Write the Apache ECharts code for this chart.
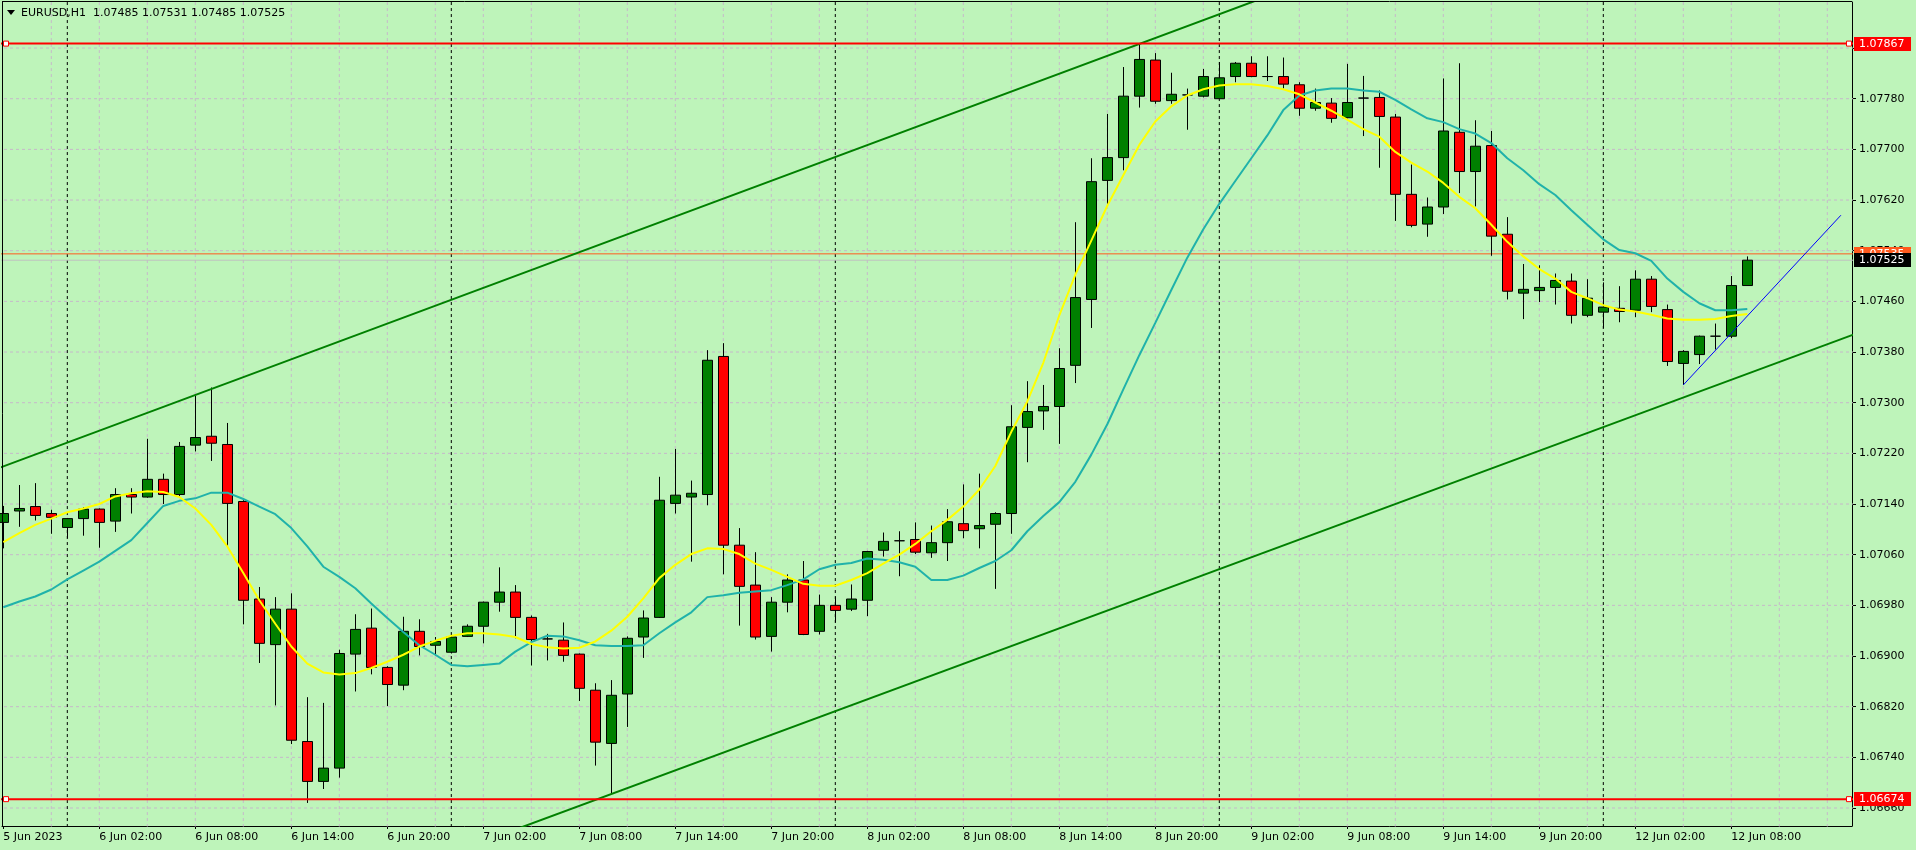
<!DOCTYPE html>
<html><head><meta charset="utf-8">
<script src="https://cdn.jsdelivr.net/npm/echarts@6/dist/echarts.min.js"></script>
<style>html,body{margin:0;padding:0;background:#BEF4BA;overflow:hidden}#c{width:1916px;height:850px}</style>
</head><body><div id="c"></div>
<script>
const symbolTitle = 'EURUSD,H1';
const lastQuote = ['1.07485', '1.07531', '1.07485', '1.07525'];

const opens = [1.07111,1.07129,1.07136,1.07125,1.07103,1.07117,1.07132,1.07113,1.07155,1.07151,
1.07179,1.07155,1.07233,1.07247,1.07234,1.07144,1.06990,1.06918,1.06974,1.06765,
1.06702,1.06723,1.06903,1.06944,1.06882,1.06854,1.06939,1.06917,1.06906,1.06931,
1.06947,1.06985,1.07001,1.06961,1.06927,1.06925,1.06903,1.06846,1.06762,1.06840,
1.06930,1.06961,1.07141,1.07151,1.07155,1.07373,1.07075,1.07012,1.06931,1.06985,
1.07020,1.06939,1.06980,1.06974,1.06988,1.07067,1.07082,1.07084,1.07063,1.07079,
1.07109,1.07101,1.07108,1.07125,1.07261,1.07287,1.07294,1.07359,1.07463,1.07651,
1.07687,1.07784,1.07841,1.07777,1.07786,1.07784,1.07780,1.07815,1.07836,1.07815,
1.07815,1.07802,1.07765,1.07773,1.07750,1.07781,1.07782,1.07751,1.07629,1.07582,
1.07609,1.07727,1.07665,1.07706,1.07566,1.07473,1.07477,1.07482,1.07492,1.07438,
1.07443,1.07449,1.07446,1.07495,1.07447,1.07362,1.07376,1.07405,1.07405,1.07485];
const highs = [1.07137,1.07170,1.07173,1.07131,1.07118,1.07135,1.07133,1.07165,1.07165,1.07243,
1.07188,1.07238,1.07311,1.07324,1.07268,1.07146,1.07009,1.06993,1.06999,1.06835,
1.06826,1.06910,1.06966,1.06975,1.06884,1.06962,1.06958,1.06930,1.06935,1.06950,
1.06986,1.07040,1.07012,1.06964,1.06935,1.06953,1.06904,1.06857,1.06862,1.06931,
1.06972,1.07183,1.07227,1.07177,1.07383,1.07394,1.07102,1.07064,1.06993,1.07029,
1.07050,1.06997,1.06994,1.07013,1.07066,1.07095,1.07097,1.07111,1.07106,1.07132,
1.07171,1.07188,1.07127,1.07296,1.07334,1.07328,1.07386,1.07585,1.07686,1.07756,
1.07830,1.07867,1.07852,1.07821,1.07796,1.07827,1.07838,1.07838,1.07847,1.07847,
1.07845,1.07806,1.07796,1.07781,1.07835,1.07816,1.07793,1.07756,1.07676,1.07624,
1.07812,1.07836,1.07746,1.07729,1.07593,1.07519,1.07517,1.07504,1.07504,1.07495,
1.07490,1.07484,1.07509,1.07500,1.07455,1.07383,1.07406,1.07425,1.07500,1.07531];
const lows = [1.07070,1.07104,1.07114,1.07093,1.07086,1.07090,1.07071,1.07096,1.07125,1.07150,
1.07140,1.07152,1.07223,1.07208,1.07073,1.06950,1.06889,1.06822,1.06761,1.06668,
1.06690,1.06708,1.06844,1.06871,1.06821,1.06846,1.06901,1.06901,1.06904,1.06930,
1.06920,1.06970,1.06928,1.06885,1.06893,1.06891,1.06829,1.06727,1.06683,1.06788,
1.06897,1.06960,1.07125,1.07049,1.07138,1.07029,1.06948,1.06926,1.06907,1.06969,
1.06933,1.06934,1.06953,1.06971,1.06963,1.07057,1.07026,1.07061,1.07055,1.07050,
1.07086,1.07070,1.07006,1.07093,1.07206,1.07257,1.07235,1.07331,1.07418,1.07611,
1.07667,1.07766,1.07772,1.07772,1.07731,1.07782,1.07780,1.07806,1.07814,1.07808,
1.07796,1.07753,1.07761,1.07742,1.07749,1.07721,1.07671,1.07587,1.07577,1.07562,
1.07598,1.07631,1.07610,1.07532,1.07463,1.07432,1.07459,1.07455,1.07425,1.07435,
1.07418,1.07427,1.07435,1.07443,1.07358,1.07328,1.07361,1.07384,1.07402,1.07485];
const closes = [1.07125,1.07133,1.07122,1.07119,1.07117,1.07132,1.07111,1.07155,1.07151,1.07179,
1.07155,1.07231,1.07245,1.07236,1.07141,1.06988,1.06920,1.06974,1.06767,1.06702,
1.06723,1.06904,1.06942,1.06882,1.06855,1.06939,1.06915,1.06923,1.06930,1.06947,
1.06985,1.07001,1.06961,1.06926,1.06927,1.06901,1.06849,1.06764,1.06838,1.06928,
1.06960,1.07146,1.07154,1.07157,1.07367,1.07075,1.07010,1.06930,1.06985,1.07020,
1.06934,1.06980,1.06972,1.06990,1.07065,1.07081,1.07082,1.07064,1.07079,1.07112,
1.07098,1.07106,1.07125,1.07262,1.07286,1.07294,1.07354,1.07466,1.07649,1.07687,
1.07784,1.07842,1.07776,1.07787,1.07786,1.07815,1.07813,1.07836,1.07815,1.07815,
1.07803,1.07765,1.07774,1.07749,1.07774,1.07781,1.07752,1.07629,1.07580,1.07609,
1.07729,1.07665,1.07705,1.07563,1.07476,1.07479,1.07482,1.07493,1.07438,1.07465,
1.07451,1.07444,1.07495,1.07452,1.07365,1.07381,1.07405,1.07405,1.07485,1.07525];

const maFast = [1.07080,1.07094,1.07107,1.07117,1.07127,1.07133,1.07140,1.07152,1.07157,1.07160,
1.07159,1.07151,1.07133,1.07107,1.07073,1.07031,1.06988,1.06951,1.06915,1.06888,
1.06874,1.06871,1.06873,1.06881,1.06891,1.06902,1.06915,1.06924,1.06932,1.06936,
1.06936,1.06934,1.06930,1.06919,1.06914,1.06912,1.06913,1.06923,1.06940,1.06962,
1.06991,1.07023,1.07044,1.07061,1.07070,1.07069,1.07061,1.07046,1.07036,1.07025,
1.07014,1.07011,1.07011,1.07020,1.07031,1.07046,1.07060,1.07077,1.07097,1.07115,
1.07136,1.07163,1.07200,1.07254,1.07302,1.07363,1.07438,1.07502,1.07556,1.07611,
1.07659,1.07707,1.07744,1.07768,1.07785,1.07795,1.07801,1.07803,1.07803,1.07800,
1.07795,1.07787,1.07774,1.07761,1.07747,1.07732,1.07720,1.07696,1.07679,1.07665,
1.07647,1.07625,1.07607,1.07581,1.07554,1.07531,1.07511,1.07496,1.07475,1.07465,
1.07454,1.07447,1.07444,1.07439,1.07433,1.07431,1.07431,1.07432,1.07437,1.07440];
const maSlow = [1.06977,1.06986,1.06994,1.07005,1.07021,1.07035,1.07049,1.07066,1.07083,1.07110,
1.07137,1.07145,1.07149,1.07158,1.07158,1.07148,1.07136,1.07124,1.07102,1.07073,
1.07041,1.07025,1.07007,1.06983,1.06960,1.06938,1.06917,1.06902,1.06886,1.06884,
1.06886,1.06888,1.06907,1.06922,1.06932,1.06931,1.06925,1.06917,1.06916,1.06916,
1.06917,1.06936,1.06953,1.06969,1.06993,1.06996,1.07000,1.07002,1.07004,1.07012,
1.07021,1.07037,1.07044,1.07047,1.07054,1.07052,1.07048,1.07041,1.07020,1.07020,
1.07027,1.07039,1.07050,1.07067,1.07097,1.07121,1.07143,1.07175,1.07218,1.07266,
1.07321,1.07375,1.07426,1.07478,1.07529,1.07574,1.07614,1.07650,1.07686,1.07722,
1.07762,1.07785,1.07793,1.07796,1.07796,1.07793,1.07791,1.07778,1.07763,1.07749,
1.07743,1.07732,1.07725,1.07710,1.07686,1.07667,1.07645,1.07628,1.07604,1.07581,
1.07558,1.07541,1.07536,1.07524,1.07496,1.07475,1.07457,1.07446,1.07446,1.07448];

const timeLabels = ['5 Jun 2023','6 Jun 02:00','6 Jun 08:00','6 Jun 14:00','6 Jun 20:00',
'7 Jun 02:00','7 Jun 08:00','7 Jun 14:00','7 Jun 20:00','8 Jun 02:00','8 Jun 08:00',
'8 Jun 14:00','8 Jun 20:00','9 Jun 02:00','9 Jun 08:00','9 Jun 14:00','9 Jun 20:00',
'12 Jun 02:00','12 Jun 08:00'];
const labelStep = 6;        // bars between time labels
const gridStep = 3;         // bars between vertical grid lines
const daySeparators = [4, 28, 52, 76, 100];
const xMin = -0.08125, xMax = 115.54375;   // visible bar range (bar index)

const yTickLabels = ['1.06660','1.06740','1.06820','1.06900','1.06980','1.07060','1.07140',
'1.07220','1.07300','1.07380','1.07460','1.07540','1.07620','1.07700','1.07780','1.07860'];
const yMin = 1.066316, yMax = 1.079327;

const hLevels = [1.07867, 1.06674];
const hLevelLabels = ['1.07867', '1.06674'];
const bidPrice = 1.07525, bidLabel = '1.07525';
const askPrice = 1.07535, askLabel = '1.07535';

const upperChannel = [[-1, 1.07190], [80, 1.07951]];
const lowerChannel = [[32, 1.06626], [116, 1.07411]];
const blueTrend = [[105, 1.07328], [114.85, 1.07596]];

const BG = '#BEF4BA';
const FONT = 'DejaVu Sans';
const chart = echarts.init(document.getElementById('c'), null, {renderer: 'canvas'});

const candleData = opens.map((o, i) => [i, o, closes[i], lows[i], highs[i]]);
const fastData = maFast.map((v, i) => [i, v]);
const slowData = maSlow.map((v, i) => [i, v]);
const yTickValues = yTickLabels.map(parseFloat);
const xLabelValues = timeLabels.map((_, i) => i * labelStep);

function hLine(v, style, z) {
  return {type: 'line', data: [[xMin - 1, v], [xMax + 1, v]], showSymbol: false, silent: true,
    z: z, lineStyle: style, clip: true};
}
function vLine(k, style, z) {
  return {type: 'line', data: [[k, yMin - 1], [k, yMax + 1]], showSymbol: false, silent: true,
    z: z, lineStyle: style, clip: true};
}
const dashGrid = {color: '#C6B9C9', width: 1, type: [3, 3]};
const guides = [];
for (let k = gridStep; k < xMax; k += gridStep) guides.push(vLine(k, dashGrid, 1));
yTickValues.forEach(v => guides.push(hLine(v, dashGrid, 1)));
daySeparators.forEach(k => guides.push(vLine(k, {color: '#000', width: 1, type: [3, 3]}, 2)));
guides.push(hLine(bidPrice, {color: '#C0C0C0', width: 1}, 2));
guides.push(hLine(askPrice, {color: '#FF5A1E', width: 1}, 2));

const option = {
  backgroundColor: BG,
  animation: false,
  grid: {left: 2, right: 64, top: 2, bottom: 24, containLabel: false},
  xAxis: {
    type: 'value', min: xMin, max: xMax,
    axisLine: {show: true, onZero: false, lineStyle: {color: '#000', width: 1}},
    axisTick: {show: true, customValues: xLabelValues, length: 3, lineStyle: {color: '#000'}},
    axisLabel: {show: true, customValues: xLabelValues,
      formatter: (v) => timeLabels[Math.round(v / labelStep)],
      align: 'left', margin: 6, fontFamily: FONT, fontSize: 11, color: '#000'},
    splitLine: {show: false}
  },
  yAxis: {
    type: 'value', position: 'right', min: yMin, max: yMax, scale: true,
    axisLine: {show: true, onZero: false, lineStyle: {color: '#000', width: 1}},
    axisTick: {show: true, customValues: yTickValues, length: 4, lineStyle: {color: '#000'}},
    axisLabel: {show: true, customValues: yTickValues, formatter: (v) => v.toFixed(5),
      margin: 7, fontFamily: FONT, fontSize: 11, color: '#000'},
    splitLine: {show: false}
  },
  series: guides.concat([
    {type: 'candlestick', data: candleData, encode: {x: 0, y: [1, 2, 3, 4]}, barWidth: 10, z: 3,
     itemStyle: {color: '#008000', color0: '#FF0000', borderColor: '#000', borderColor0: '#000', borderWidth: 1}},
    {type: 'line', data: slowData, showSymbol: false, z: 4, lineStyle: {color: '#20B2AA', width: 2}},
    {type: 'line', data: fastData, showSymbol: false, z: 5, lineStyle: {color: '#FFFF00', width: 2}},
    {type: 'line', data: upperChannel, showSymbol: false, z: 6, clip: true, lineStyle: {color: '#008000', width: 2}},
    {type: 'line', data: lowerChannel, showSymbol: false, z: 6, clip: true, lineStyle: {color: '#008000', width: 2}},
    {type: 'line', data: blueTrend, showSymbol: false, z: 6, clip: true, lineStyle: {color: '#0000FF', width: 1}}
  ]).concat(hLevels.map(v => hLine(v, {color: '#FF0000', width: 2}, 7)))
};
chart.setOption(option);

const py = (p) => chart.convertToPixel({yAxisIndex: 0}, p);
const frameR = chart.convertToPixel({xAxisIndex: 0}, xMax);
const frameL = chart.convertToPixel({xAxisIndex: 0}, xMin);
const frameB = py(yMin);
const g = [];
g.push({type: 'line', shape: {x1: frameL + 0.5, y1: 1.5, x2: frameL + 0.5, y2: frameB}, style: {stroke: '#000', lineWidth: 1}, z: 101});
g.push({type: 'line', shape: {x1: frameL, y1: 1.5, x2: frameR, y2: 1.5}, style: {stroke: '#000', lineWidth: 1}, z: 101});
function priceBox(p, txt, bg, fg, z) {
  const y = Math.round(py(p));
  g.push({type: 'rect', shape: {x: frameR + 2, y: y - 7, width: 57, height: 14}, style: {fill: bg}, z: z});
  g.push({type: 'text', x: frameR + 7, y: y, style: {text: txt, fill: fg, font: '11px ' + FONT, textVerticalAlign: 'middle'}, z: z + 1});
}
hLevels.forEach((p, i) => {
  priceBox(p, hLevelLabels[i], '#FF0000', '#FFFFFF', 110);
  const y = py(p);
  g.push({type: 'rect', shape: {x: frameL + 1.5, y: y - 2.5, width: 5, height: 5}, style: {fill: '#FFF', stroke: '#FF0000', lineWidth: 1}, z: 112});
  g.push({type: 'rect', shape: {x: frameR - 5.5, y: y - 2.5, width: 5, height: 5}, style: {fill: '#FFF', stroke: '#FF0000', lineWidth: 1}, z: 112});
});
priceBox(askPrice, askLabel, '#FF5A1E', '#FFFFFF', 120);
priceBox(bidPrice, bidLabel, '#000000', '#FFFFFF', 130);
g.push({type: 'polygon', shape: {points: [[7, 10], [15, 10], [11, 15]]}, style: {fill: '#000'}, z: 140});
g.push({type: 'text', x: 21, y: 13, style: {text: symbolTitle + '  ' + lastQuote.join(' '), fill: '#000', font: '11px ' + FONT, textVerticalAlign: 'middle'}, z: 140});
chart.setOption({graphic: g});
</script></body></html>
